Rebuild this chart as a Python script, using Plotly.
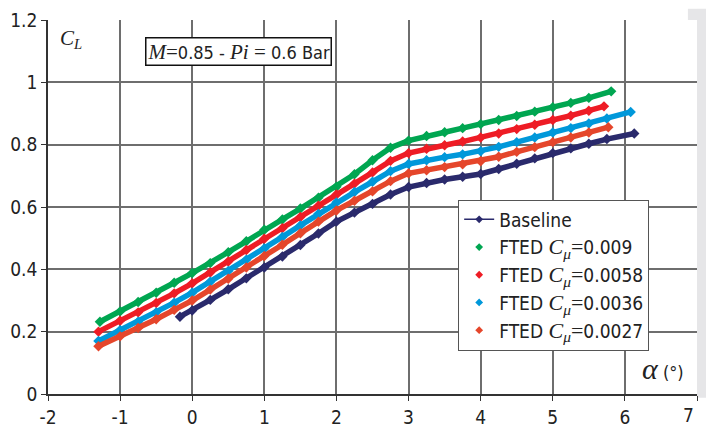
import plotly.graph_objects as go

# angle of attack (deg) and lift coefficient
alpha_base = [-0.17, 0, 0.25, 0.5, 0.75, 1.0, 1.25, 1.5, 1.75, 2.0, 2.25, 2.5, 2.75, 3.0,
              3.25, 3.5, 3.75, 4.0, 4.25, 4.5, 4.75, 5.0, 5.25, 5.5, 5.75, 6.13]
cl_base = [0.248, 0.268, 0.302, 0.336, 0.371, 0.406, 0.441, 0.478, 0.515, 0.553, 0.582, 0.61, 0.64, 0.664,
           0.677, 0.688, 0.697, 0.706, 0.722, 0.739, 0.756, 0.773, 0.788, 0.803, 0.818, 0.836]

alpha_009 = [-1.28, -1.0, -0.75, -0.5, -0.25, 0, 0.25, 0.5, 0.75, 1.0, 1.25, 1.5, 1.75, 2.0, 2.25,
             2.5, 2.75, 3.0, 3.25, 3.5, 3.75, 4.0, 4.25, 4.5, 4.75, 5.0, 5.25, 5.5, 5.81]
cl_009 = [0.232, 0.265, 0.295, 0.325, 0.357, 0.388, 0.42, 0.455, 0.49, 0.527, 0.56, 0.595, 0.63, 0.665, 0.705,
          0.75, 0.79, 0.813, 0.828, 0.84, 0.853, 0.866, 0.879, 0.892, 0.906, 0.92, 0.934, 0.95, 0.971]

alpha_0058 = [-1.3, -1.0, -0.75, -0.5, -0.25, 0, 0.25, 0.5, 0.75, 1.0, 1.25, 1.5, 1.75, 2.0, 2.25,
              2.5, 2.75, 3.0, 3.25, 3.5, 3.75, 4.0, 4.25, 4.5, 4.75, 5.0, 5.25, 5.5, 5.71]
cl_0058 = [0.2, 0.235, 0.262, 0.292, 0.323, 0.355, 0.39, 0.425, 0.462, 0.498, 0.532, 0.568, 0.604, 0.64, 0.675,
           0.711, 0.748, 0.773, 0.787, 0.798, 0.81, 0.823, 0.836, 0.85, 0.864, 0.879, 0.893, 0.909, 0.923]

alpha_0036 = [-1.3, -1.0, -0.75, -0.5, -0.25, 0, 0.25, 0.5, 0.75, 1.0, 1.25, 1.5, 1.75, 2.0, 2.25,
              2.5, 2.75, 3.0, 3.25, 3.5, 3.75, 4.0, 4.25, 4.5, 4.75, 5.0, 5.25, 5.5, 5.75, 6.08]
cl_0036 = [0.17, 0.205, 0.232, 0.262, 0.293, 0.325, 0.36, 0.395, 0.431, 0.467, 0.504, 0.541, 0.578, 0.615, 0.648,
           0.681, 0.715, 0.738, 0.75, 0.76, 0.769, 0.779, 0.793, 0.808, 0.823, 0.839, 0.853, 0.868, 0.884, 0.905]

alpha_0027 = [-1.3, -1.0, -0.75, -0.5, -0.25, 0, 0.25, 0.5, 0.75, 1.0, 1.25, 1.5, 1.75, 2.0, 2.25,
              2.5, 2.75, 3.0, 3.25, 3.5, 3.75, 4.0, 4.25, 4.5, 4.75, 5.0, 5.25, 5.5, 5.77]
cl_0027 = [0.153, 0.185, 0.212, 0.24, 0.27, 0.3, 0.335, 0.37, 0.406, 0.443, 0.479, 0.516, 0.553, 0.589, 0.62,
           0.65, 0.683, 0.708, 0.718, 0.728, 0.737, 0.747, 0.761, 0.777, 0.792, 0.808, 0.823, 0.839, 0.856]

x_ticks = [-2, -1, 0, 1, 2, 3, 4, 5, 6, 7]
x_ticktext = ["-2", "-1", "0", "1", "2", "3", "4", "5", "6", "7"]
y_ticks = [0, 0.2, 0.4, 0.6, 0.8, 1, 1.2]
y_ticktext = ["0", "0.2", "0.4", "0.6", "0.8", "1", "1.2"]

SANS = "DejaVu Sans Condensed, Liberation Sans Narrow, sans-serif"
SERIF = "Liberation Serif, DejaVu Serif, serif"


def cmu(val):
    return ("FTED <span style='font-family:Liberation Serif;font-size:22px'><i>C</i><sub><i>μ</i></sub>=</span>"
            + val)


series = [
    (alpha_base, cl_base, "#2a2a6c", "Baseline", True),
    (alpha_009, cl_009, "#00a651", cmu("0.009"), False),
    (alpha_0058, cl_0058, "#ee1c25", cmu("0.0058"), False),
    (alpha_0036, cl_0036, "#0098da", cmu("0.0036"), False),
    (alpha_0027, cl_0027, "#e5462b", cmu("0.0027"), False),
]

fig = go.Figure()
# plotted curves
for x, y, col, name, is_base in series[1:] + series[:1]:
    fig.add_trace(go.Scatter(x=x, y=y, mode="lines+markers", showlegend=False,
                             line=dict(color=col, width=5.5),
                             marker=dict(symbol="diamond", size=8, color=col)))
# legend entries
for x, y, col, name, is_base in series:
    fig.add_trace(go.Scatter(x=[None], y=[None], name=name,
                             mode="lines+markers" if is_base else "markers",
                             line=dict(color=col, width=1.5),
                             marker=dict(symbol="diamond", size=6, color=col)))

axis_common = dict(showgrid=True, gridcolor="#6e6e6e", gridwidth=1.5, showline=True,
                   linecolor="#333333", linewidth=1.5, ticks="outside", ticklen=5,
                   tickcolor="#333333", zeroline=False, ticklabeloverflow="allow",
                   tickfont=dict(family=SANS, size=19, color="#222222"))

# last label sits left of its gridline in the original, so it is placed by hand
inner_text = [t if t != "7" else "" for t in x_ticktext]
fig.update_xaxes(range=[-2, 7], tickvals=x_ticks, ticktext=inner_text, **axis_common)
fig.update_yaxes(range=[0, 1.2], tickvals=y_ticks, ticktext=y_ticktext, **axis_common)

edge_labels = [
    dict(text=x_ticktext[-1], xref="x", yref="paper", x=x_ticks[-1] - 0.12, y=-0.022, xanchor="center",
         yanchor="top", showarrow=False, font=dict(family=SANS, size=19, color="#222222")),
]

fig.update_layout(
    width=706, height=437,
    margin=dict(l=48, r=9, t=10, b=34),
    paper_bgcolor="white", plot_bgcolor="white",
    legend=dict(x=0.632, y=0.52, xanchor="left", yanchor="top",
                bgcolor="white", bordercolor="#555555", borderwidth=1,
                font=dict(family=SANS, size=19, color="#222222"),
                tracegroupgap=0, itemwidth=30),
    shapes=[
        dict(type="rect", xref="paper", yref="paper", x0=1.0, x1=1.02, y0=-0.01, y1=1.03,
             fillcolor="#e6e6e8", line=dict(width=0), layer="below"),
        dict(type="rect", xref="paper", yref="paper", x0=0.986, x1=1.0, y0=1.0, y1=1.03,
             fillcolor="#e6e6e8", line=dict(width=0), layer="below"),
    ],
    annotations=edge_labels + [
        dict(text="<i>C</i><sub><i>L</i></sub>", xref="paper", yref="paper", x=0.035, y=0.95,
             xanchor="center", yanchor="middle",
             showarrow=False, font=dict(family=SERIF, size=21, color="#222222")),
        dict(text="<span style='font-family:Liberation Serif;font-size:21px'><i>M</i>=</span>0.85 - "
                  "<span style='font-family:Liberation Serif;font-size:21px'><i>Pi</i> = </span>0.6 Bar",
             xref="paper", yref="paper", x=0.293, y=0.917, xanchor="center", yanchor="middle",
             showarrow=False, bgcolor="white", bordercolor="#111111", borderwidth=1.5, borderpad=1,
             font=dict(family=SANS, size=18, color="#222222")),
        dict(text="<span style='font-family:Liberation Serif;font-size:30px'><i>α</i></span> (°)",
             xref="paper", yref="paper", x=0.947, y=0.068, xanchor="center", yanchor="middle",
             showarrow=False, font=dict(family=SANS, size=18, color="#222222")),
    ],
)

# page body has a default 8px margin; remove it so the figure fills the window
fig.write_html("out.html", config={"displayModeBar": False},
               post_script="document.body.style.margin='0';")
